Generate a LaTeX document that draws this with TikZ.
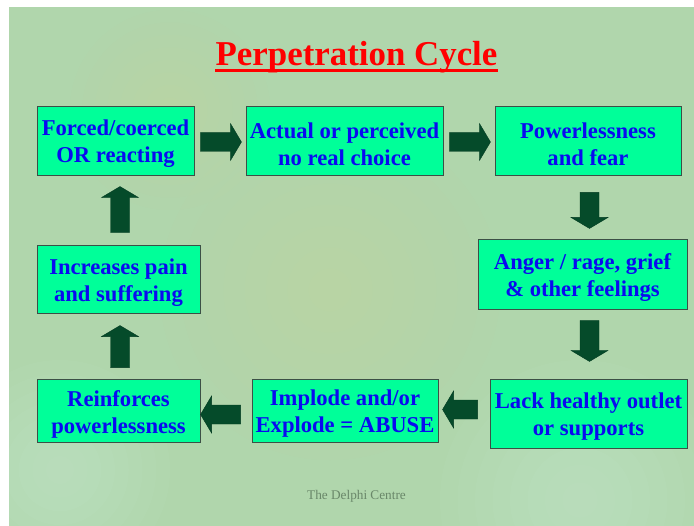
\documentclass[tikz,border=0pt]{standalone}
\usepackage{fontspec}
\setmainfont{Liberation Serif}
\usetikzlibrary{calc}
\definecolor{bgbase}{RGB}{176,214,172}
\definecolor{bgtan}{RGB}{204,212,160}
\definecolor{bglight}{RGB}{200,234,212}
\definecolor{boxfill}{RGB}{0,255,153}
\definecolor{boxline}{RGB}{60,80,70}
\definecolor{txtblue}{RGB}{10,10,240}
\definecolor{arrowfill}{RGB}{5,75,42}
\definecolor{footgray}{RGB}{105,135,105}
\tikzset{
  stepbox/.style={draw=boxline, line width=0.9bp, fill=boxfill, inner sep=0pt},
  steptext/.style={inner sep=0pt, text=txtblue, align=center,
    font=\fontsize{22.7}{27.2}\selectfont\bfseries},
  blockarrow/.style={fill=arrowfill, draw=arrowfill!80!black, line width=0.4bp},
}
\newcommand\stepnode[5]{%
  \node[stepbox, minimum width=#3bp, minimum height=#4bp] (#1) at #2 {};
  \node[steptext] (#1t) at ($(#1.center)+(0,3.5)$) {#5};}
\newcommand\blockarrow[3]{%
  \filldraw[blockarrow,shift={#1},rotate=#2] (0,-9.5) -- (#3-11,-9.5) -- (#3-11,-18.5)
    -- (#3,0) -- (#3-11,18.5) -- (#3-11,9.5) -- (0,9.5) -- cycle;}
\newcommand\blotch[3]{%
  \foreach \k in {1,...,8} {\fill[#1, opacity=0.07] #2 circle ({#3*\k/8});}}
\begin{document}
\begin{tikzpicture}[x=1bp,y=-1bp]
\useasboundingbox (0,0) rectangle (694,526);
% background
\begin{scope}
\clip (9,7) rectangle (694,526);
\fill[bgbase] (9,7) rectangle (694,526);
\blotch{bgtan}{(330,290)}{170}
\blotch{bgtan}{(170,110)}{100}
\blotch{bglight}{(580,500)}{140}
\blotch{bglight}{(60,470)}{110}
\end{scope}
% title
\node[anchor=base, inner sep=0pt, text=red, font=\fontsize{35}{40}\selectfont\bfseries]
  (title) at (356.5,66) {Perpetration Cycle};
\draw[red, line width=3bp] ($(title.base west)+(0,5)$) -- ($(title.base east)+(0,5)$);
% boxes
\stepnode{b1}{(115.5,140.5)}{157}{69}{Forced/coerced\\OR reacting}
\stepnode{b2}{(344.5,140.5)}{197}{69}{Actual or perceived\\no real choice}
\stepnode{b3}{(588,140.5)}{186}{69}{Powerlessness\\and fear}
\stepnode{b4}{(582.5,274)}{209}{70}{Anger / rage, grief\\\& other feelings}
\stepnode{b5}{(588.5,413.5)}{197}{69}{Lack healthy outlet\\or supports}
\stepnode{b6}{(345,410.5)}{186}{63}{Implode and/or\\Explode = ABUSE}
\stepnode{b7}{(118.5,410.5)}{163}{63}{Reinforces\\powerlessness}
\stepnode{b8}{(118.5,279)}{163}{68}{Increases pain\\and suffering}
% block arrows
\blockarrow{($(b1.east)+(6,1.5)$)}{0}{41}
\blockarrow{($(b2.east)+(6,1.5)$)}{0}{41}
\blockarrow{($(b3.south)+(1.5,17)$)}{-90}{36}
\blockarrow{($(b4.south)+(7,11)$)}{-90}{41}
\blockarrow{($(b5.west)+(-12,-4)$)}{180}{35}
\blockarrow{($(b6.west)+(-11,4)$)}{180}{40}
\blockarrow{($(b7.north)+(1.5,-11)$)}{90}{42}
\blockarrow{($(b8.north)+(1.5,-12)$)}{90}{46}
% footer
\node[anchor=base, inner sep=0pt, text=footgray, font=\fontsize{13.3}{15}\selectfont]
  (foot) at (356.5,499) {The Delphi Centre};
\end{tikzpicture}
\end{document}
